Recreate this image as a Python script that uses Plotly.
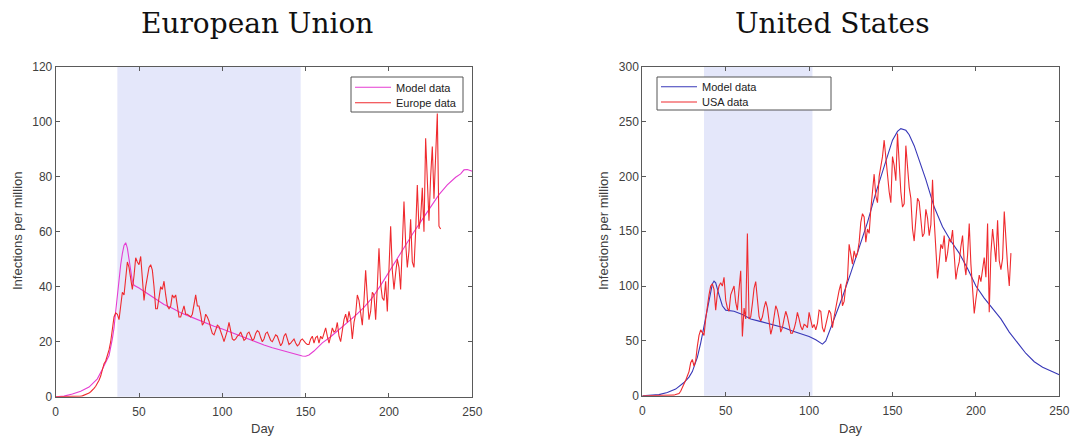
import plotly.graph_objects as go

W, H = 1074, 438

# ---------------- data ----------------
eu_model_day = [0, 5, 10, 15, 20, 25, 28, 30, 32, 34, 35, 36, 37, 38, 39, 40, 41, 42, 43, 44, 45, 46, 47,
                50, 55, 60, 65, 70, 75, 80, 85, 90, 95, 100, 105, 110, 115, 120, 125, 130, 135, 140,
                145, 148, 150, 152, 155, 160, 165, 170, 175, 180, 185, 190, 195, 200, 205, 210, 215,
                220, 225, 230, 235, 240, 243, 245, 247, 250]
eu_model_val = [0, 0.2, 1, 2, 3.5, 6.5, 10, 12.5, 15, 21, 25, 31, 37, 42, 48, 52, 55, 56, 54, 50, 45, 42, 40.5,
                39.5, 37.5, 35.5, 33.5, 32.2, 30.5, 29.3, 28, 26.8, 25.6, 24.6, 23.4, 22.3, 21.2, 20, 18.8, 17.8, 16.9, 16.2,
                15.3, 14.8, 14.7, 15.2, 16.6, 19.6, 21.8, 24.3, 27, 29.6, 32.5, 36, 40.5, 45.5, 50.5, 55, 60,
                64.5, 69.2, 73.5, 77, 79.8, 81, 82.5, 82.6, 82]

eu_data_val = [0, 0, 0, 0, 0, 0, 0, 0, 0, 0, 0, 0, 0, 0, 0,
               0.2, 0.3, 0.5, 0.7, 1, 1.3, 1.8, 2.3, 3, 3.8, 4.8, 6, 7.5, 10, 12,
               13, 15, 17, 20, 25, 29, 30.5, 30, 28, 33, 38, 37, 44, 49, 47, 42, 39, 44, 50.5, 49,
               48, 51, 44, 35, 40, 44, 47, 48, 46, 40, 32, 32, 37, 40, 39, 42, 37, 33, 32, 33,
               37, 36, 37, 33, 29, 29, 31, 33, 30, 30, 29.5, 29, 30, 34, 37, 33, 33, 30, 26, 27,
               30, 29, 27.5, 25, 23, 22.5, 24, 26, 25.5, 24, 22, 20, 22, 24, 27, 24, 21, 20.5, 21, 22,
               22.5, 23.5, 22, 20.5, 21, 23, 23.5, 22, 20.5, 21, 23, 24, 23.5, 21.5, 20, 21, 23, 23.5, 22, 20.5,
               20, 21, 22.5, 22, 20, 18.5, 19.5, 22, 23, 21, 19, 19.5, 20.5, 21, 19.5, 18.5, 19, 20.5, 21, 20,
               19.5, 19, 19, 21, 22, 19.5, 21.5, 22, 19.5, 22, 21, 23, 25, 22, 19.5, 22, 25, 23.5, 24, 27,
               22, 20, 25, 28, 30, 27, 31, 28, 21, 27, 30, 37, 35, 30, 26, 35, 46, 36, 28, 31,
               38, 37, 28, 40, 54, 41, 36, 35, 42, 31, 45, 62, 46, 39, 45, 50, 47, 39, 55, 71,
               56, 47, 53, 64.5, 49, 47, 60, 77, 61, 65, 76, 60, 94, 75, 64, 80, 91, 72, 86, 103,
               62, 61]
eu_data_day = list(range(len(eu_data_val)))

us_model_day = [0, 5, 10, 15, 20, 25, 28, 30, 33, 35, 38, 40, 42, 43, 44, 46, 48, 50, 55, 60, 65, 70, 75,
                80, 85, 90, 95, 100, 104, 107, 108, 110, 112, 115, 120, 125, 130, 135, 140, 145, 148,
                150, 153, 155, 158, 160, 163, 166, 170, 175, 180, 185, 190, 195, 200, 205, 210, 215,
                220, 225, 230, 235, 240, 245, 250]
us_model_val = [0, 0.3, 1, 3, 6, 12, 17, 22, 35, 48, 70, 88, 102, 104.5, 103, 92, 82, 78, 77, 74, 70, 68, 66,
                64, 62, 59, 56.5, 54, 51, 48, 47, 50, 58, 70, 90, 112, 135, 158, 185, 210, 225,
                233, 241, 243.5, 242, 238, 228, 215, 197, 172, 154, 141, 130, 116, 100, 89, 80, 70,
                58, 48, 38.5, 31, 26, 22.5, 19]

us_data_val = [0, 0, 0, 0, 0, 0, 0, 0, 0, 0, 0, 0, 0, 0, 0, 0, 0, 0, 0,
               0.5, 1, 1.5, 2, 4, 7, 10, 14, 18, 22, 30,
               33, 27, 32, 45, 55, 60, 58, 55, 70, 82, 92, 100, 102, 97, 78, 93, 100, 103, 100, 108,
               87, 80, 77, 92, 96, 100, 85, 78, 97, 114, 54, 80, 70, 148, 70, 72, 84, 98, 104, 88,
               72, 68, 72, 80, 86, 80, 66, 56, 62, 72, 82, 78, 70, 58, 62, 70, 77, 72, 64, 57,
               57, 61, 67, 76, 70, 63, 60, 65, 64, 62, 76, 69, 62, 65, 60, 66, 78, 77, 62, 58,
               65, 70, 78, 75, 62, 72, 82, 88, 96, 102, 82, 86, 100, 106, 138, 128, 120, 132, 126, 130,
               140, 158, 166, 163, 140, 152, 148, 170, 190, 202, 182, 176, 200, 210, 218, 233, 218, 198, 186, 176,
               218, 210, 196, 239, 212, 186, 172, 175, 228, 206, 190, 180, 152, 141, 166, 180, 177, 160, 145, 148,
               170, 162, 146, 156, 197, 160, 130, 107, 122, 138, 134, 146, 122, 130, 143, 140, 151, 128, 106, 116,
               122, 136, 146, 122, 110, 128, 157, 120, 96, 75, 88, 100, 110, 104, 118, 126, 108, 157, 76, 130,
               152, 136, 122, 160, 123, 115, 125, 168, 140, 118, 100, 130]
us_data_day = list(range(len(us_data_val)))

eu_shade = [37, 147]
us_shade = [37, 102]

x_ticks = [0, 50, 100, 150, 200, 250]
eu_y_ticks = [0, 20, 40, 60, 80, 100, 120]
us_y_ticks = [0, 50, 100, 150, 200, 250, 300]

titles = ["European Union", "United States"]
eu_names = ["Model data", "Europe data"]
us_names = ["Model data", "USA data"]

# ---------------- styling ----------------
MAGENTA = "#e53dd2"
RED = "#ef2a2e"
BLUE = "#3838b8"
SHADE = "#e4e7fa"
AXC = "#5a5a5a"
TXT = "#404040"
SANS = "Liberation Sans, Arial, sans-serif"


def px_x(p):
    return p / W


def px_y(p):
    return 1 - p / H


fig = go.Figure()

fig.add_trace(go.Scatter(x=eu_model_day, y=eu_model_val, mode="lines", name=eu_names[0],
                         line=dict(color=MAGENTA, width=1.1), xaxis="x", yaxis="y", legend="legend"))
fig.add_trace(go.Scatter(x=eu_data_day, y=eu_data_val, mode="lines", name=eu_names[1],
                         line=dict(color=RED, width=1.1), xaxis="x", yaxis="y", legend="legend2"))
fig.add_trace(go.Scatter(x=us_model_day, y=us_model_val, mode="lines", name=us_names[0],
                         line=dict(color=BLUE, width=1.1), xaxis="x2", yaxis="y2", legend="legend3"))
fig.add_trace(go.Scatter(x=us_data_day, y=us_data_val, mode="lines", name=us_names[1],
                         line=dict(color=RED, width=1.1), xaxis="x2", yaxis="y2", legend="legend4"))

ax = dict(showline=True, linecolor=AXC, linewidth=1, mirror="ticks", ticks="inside", ticklen=4,
          tickcolor=AXC, showgrid=False, zeroline=False, automargin=False,
          tickfont=dict(family=SANS, size=12, color=TXT))
xax = dict(ax, ticklabelstandoff=4)

L_dom = [px_x(55.7), px_x(472.3)]
R_dom = [px_x(642.3), px_x(1059.3)]


def leg(xp, yp):
    return dict(x=px_x(xp), y=px_y(yp), xanchor="left", yanchor="middle", bgcolor="rgba(0,0,0,0)",
                borderwidth=0, font=dict(family=SANS, size=11, color="#222"), itemwidth=36)


fig.update_layout(
    width=W, height=H, margin=dict(l=0, r=0, t=0, b=0, autoexpand=False),
    paper_bgcolor="white", plot_bgcolor="white",
    xaxis=dict(xax, domain=L_dom, range=[0, 250], tickvals=x_ticks, anchor="y"),
    yaxis=dict(ax, domain=[px_y(396.7), px_y(66.7)], range=[0, 120], tickvals=eu_y_ticks, anchor="x"),
    xaxis2=dict(xax, domain=R_dom, range=[0, 250], tickvals=x_ticks, anchor="y2"),
    yaxis2=dict(ax, domain=[px_y(395.7), px_y(66.7)], range=[0, 300], tickvals=us_y_ticks, anchor="x2"),
    legend=leg(350, 87.3),
    legend2=leg(350, 102.7),
    legend3=leg(656, 86.7),
    legend4=leg(656, 102),
    showlegend=True,
)

shapes = [
    dict(type="rect", xref="x", yref="y domain", x0=eu_shade[0], x1=eu_shade[1], y0=0, y1=1,
         fillcolor=SHADE, line=dict(width=0), layer="below"),
    dict(type="rect", xref="x2", yref="y2 domain", x0=us_shade[0], x1=us_shade[1], y0=0, y1=1,
         fillcolor=SHADE, line=dict(width=0), layer="below"),
    # legend boxes
    dict(type="rect", xref="paper", yref="paper", x0=px_x(351), x1=px_x(463), y0=px_y(112), y1=px_y(77),
         fillcolor="white", line=dict(color="#555", width=1), layer="above"),
    dict(type="rect", xref="paper", yref="paper", x0=px_x(657), x1=px_x(831), y0=px_y(110), y1=px_y(77),
         fillcolor="white", line=dict(color="#555", width=1), layer="above"),
]
fig.update_layout(shapes=shapes)


def ann(text, xp, yp, font, angle=0):
    return dict(text=text, x=px_x(xp), y=px_y(yp), xref="paper", yref="paper", showarrow=False,
                xanchor="center", yanchor="middle", textangle=angle, font=font)


title_font = dict(family="DejaVu Serif", size=28, color="#111")
lab_font = dict(family=SANS, size=13, color=TXT)
annotations = [
    ann(titles[0], 257, 23, title_font),
    ann(titles[1], 832, 23, title_font),
    ann("Day", 263, 428, lab_font),
    ann("Day", 851, 428, lab_font),
    ann("Infections per million", 17, 231, lab_font, -90),
    ann("Infections per million", 603, 231, lab_font, -90),
]
fig.update_layout(annotations=annotations)

fig.write_html("out.html")
